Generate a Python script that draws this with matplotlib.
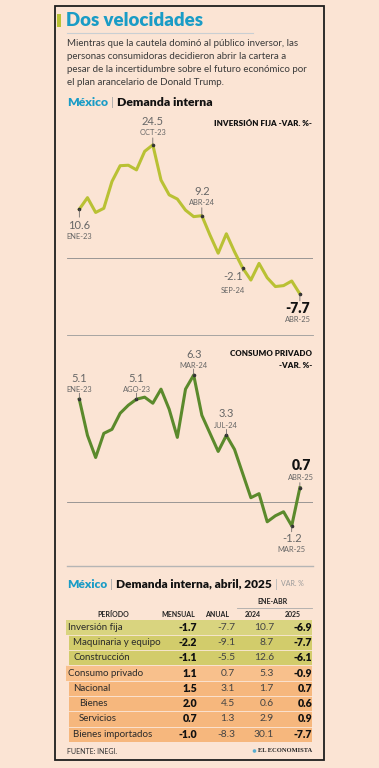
import matplotlib
matplotlib.use("Agg")
import matplotlib.pyplot as plt
from matplotlib.patches import Rectangle, Circle

# -----------------------------
# DATA
# -----------------------------

months = ["ENE-23", "FEB-23", "MAR-23", "ABR-23", "MAY-23", "JUN-23", "JUL-23",
          "AGO-23", "SEP-23", "OCT-23", "NOV-23", "DIC-23", "ENE-24", "FEB-24",
          "MAR-24", "ABR-24", "MAY-24", "JUN-24", "JUL-24", "AGO-24", "SEP-24",
          "OCT-24", "NOV-24", "DIC-24", "ENE-25", "FEB-25", "MAR-25", "ABR-25"]

inversion = [10.6, 13.1, 9.9, 10.8, 16.6, 20.0, 20.1, 19.1, 23.1, 24.5, 16.9, 13.7,
             12.8, 10.4, 9.0, 9.2, 5.0, 1.1, 5.3, 1.4, -2.1, -4.7, -1.1, -4.2,
             -6.1, -5.9, -4.9, -7.7]

consumo = [5.1, 3.3, 2.2, 3.4, 3.6, 4.4, 4.8, 5.1, 5.2, 4.9, 5.6, 4.6, 3.2, 5.6,
           6.3, 4.3, 3.4, 2.5, 3.3, 2.6, 1.4, 0.2, 0.4, -1.0, -0.7, -0.5, -1.2, 0.7]

row_names = ["Inversión fija", "Maquinaria y equipo", "Construcción", "Consumo privado",
             "Nacional", "Bienes", "Servicios", "Bienes importados"]
row_level = [0, 1, 1, 0, 1, 2, 2, 1]
mensual = [-1.7, -2.2, -1.1, 1.1, 1.5, 2.0, 0.7, -1.0]
anual = [-7.7, -9.1, -5.5, 0.7, 3.1, 4.5, 1.3, -8.3]
ene_abr_2024 = [10.7, 8.7, 12.6, 5.3, 1.7, 0.6, 2.9, 30.1]
ene_abr_2025 = [-6.9, -7.7, -6.1, -0.9, 0.7, 0.6, 0.9, -7.7]

# -----------------------------
# STYLE
# -----------------------------

W, H = 379, 768
bg = "#fbe4d4"
teal = "#1a9cc6"
olive = "#b9c134"
green = "#5b8a2c"
gray = "#666666"
plt.rcParams["font.family"] = ["Lato", "DejaVu Sans"]

fig = plt.figure(figsize=(W / 100, H / 100), dpi=100, facecolor=bg)

# overlay in pixel coordinates
ax0 = fig.add_axes([0, 0, 1, 1], zorder=0)
ax0.set_xlim(0, W)
ax0.set_ylim(H, 0)
ax0.axis("off")

ax0.add_patch(Rectangle((55, 6), 269, 754, fill=False, ec="#1e1e1e", lw=1.3))
ax0.add_patch(Rectangle((57, 14), 4, 13, color=olive, lw=0))
ax0.text(66, 21, "Dos velocidades", fontsize=13.4, fontweight="heavy", color=teal, va="center")
ax0.plot([67, 253], [33, 33], color="#c9cfd3", lw=0.8)

subtitle = ["Mientras que la cautela dominó al público inversor, las",
            "personas consumidoras decidieron abrir la cartera a",
            "pesar de la incertidumbre sobre el futuro económico por",
            "el plan arancelario de Donald Trump."]
for k, line in enumerate(subtitle):
    ax0.text(67, 44 + k * 12.9, line, fontsize=7.05, color="#3a3a3a", va="center")

renderer = fig.canvas.get_renderer()


def seq_text(x, y, parts):
    for txt, kw in parts:
        t = ax0.text(x, y, txt, va="center", **kw)
        bb = t.get_window_extent(renderer)
        x += bb.width + 3


seq_text(67, 103, [("México", dict(fontsize=8.8, fontweight="heavy", color=teal)),
                   ("|", dict(fontsize=8.8, color="#aaaaaa")),
                   ("Demanda interna", dict(fontsize=8.8, fontweight="heavy", color="#111111"))])


# -----------------------------
# LINE CHARTS
# -----------------------------

x0_px, step_px = 79.3, 8.17
left_px, right_px = 66.7, 313


def make_chart(top, bottom, zero_y, per_unit, values, color):
    ax = fig.add_axes([left_px / W, 1 - bottom / H, (right_px - left_px) / W, (bottom - top) / H],
                      zorder=1)
    ax.set_facecolor("none")
    ax.set_xlim((left_px - x0_px) / step_px, (right_px - x0_px) / step_px)
    ax.set_ylim((zero_y - bottom) / per_unit, (zero_y - top) / per_unit)
    ax.axis("off")
    ax.axhline(0, color="#8a8a8a", lw=0.6, zorder=1)
    ax.plot(range(len(values)), values, color=color, lw=2.2, solid_joinstyle="round", zorder=2)
    return ax


def mark(ax, values, i, num_dy, mon_dy, tick, dx=0, bold=False):
    v = values[i]
    ax.plot([i], [v], "o", ms=1.6, color="#333333", zorder=3)
    ax.annotate("", xy=(i, v), xytext=(0, -tick * 0.72), textcoords="offset points",
                arrowprops=dict(arrowstyle="-", lw=0.5, color="#555555", shrinkA=0, shrinkB=0))
    if bold:
        ax.annotate(f"{v:.1f}", xy=(i, v), xytext=(dx * 0.72, -num_dy * 0.72),
                    textcoords="offset points", ha="center", va="center",
                    fontsize=10, fontweight="heavy", color="#111111")
    else:
        ax.annotate(f"{v:.1f}", xy=(i, v), xytext=(dx * 0.72, -num_dy * 0.72),
                    textcoords="offset points", ha="center", va="center",
                    fontsize=8, color=gray)
    ax.annotate(months[i], xy=(i, v), xytext=(dx * 0.72, -mon_dy * 0.72),
                textcoords="offset points", ha="center", va="center",
                fontsize=5.4, color=gray)


ax1 = make_chart(115, 330, 258.3, 4.63, inversion, olive)
ax0.text(312, 123, "INVERSIÓN FIJA -VAR. %-", fontsize=5.8, fontweight="heavy",
         ha="right", va="center", color="#111111")
mark(ax1, inversion, 0, 16, 27, 8)
mark(ax1, inversion, 9, -23, -12, -7)
mark(ax1, inversion, 15, -24, -13, -8)
mark(ax1, inversion, 20, 8, 22, 3, dx=-10)
mark(ax1, inversion, 27, 15, 26, 7, dx=-2, bold=True)

ax0.plot([67, 313], [335, 335], color="#9a9a9a", lw=0.6)

ax2 = make_chart(340, 560, 501.7, 20.1, consumo, green)
ax0.text(312, 353, "CONSUMO PRIVADO", fontsize=5.8, fontweight="heavy",
         ha="right", va="center", color="#111111")
ax0.text(312, 366, "-VAR. %-", fontsize=5.8, fontweight="heavy",
         ha="right", va="center", color="#111111")
mark(ax2, consumo, 0, -21, -10, -6)
mark(ax2, consumo, 7, -21, -10, -6)
mark(ax2, consumo, 14, -21, -10, -6)
mark(ax2, consumo, 18, -22, -10, -6)
mark(ax2, consumo, 26, 13, 24, 6)
mark(ax2, consumo, 27, -22, -10, -5, dx=1.5, bold=True)

ax0.plot([67, 313], [566, 566], color="#b5b5b5", lw=1.0)

# -----------------------------
# TABLE
# -----------------------------

seq_text(67, 584, [("México", dict(fontsize=8.6, fontweight="heavy", color=teal)),
                   ("|", dict(fontsize=8.6, color="#aaaaaa")),
                   ("Demanda interna, abril, 2025", dict(fontsize=8.6, fontweight="heavy",
                                                         color="#111111")),
                   ("|", dict(fontsize=8.6, color="#bbbbbb")),
                   ("VAR. %", dict(fontsize=5, color="#999999"))])

ax0.text(273, 602, "ENE-ABR", fontsize=5, fontweight="bold", ha="center", va="center",
         color="#222222")
ax0.plot([237, 312], [608, 608], color="#aaaaaa", lw=0.6)
for label, cx in zip(["PERÍODO", "MENSUAL", "ANUAL", "2024", "2025"], [113, 178, 217, 253, 293]):
    ax0.text(cx, 614.5, label, fontsize=5, fontweight="bold", ha="center", va="center",
             color="#222222")

row_top, row_h = 619.5, 15.3
band_colors = ["#d9d47f", "#d2cc6b", "#d2cc6b", "#f8c08c", "#f6b77d", "#f6b77d",
               "#f6b77d", "#f6b77d"]
indent = {0: 67.5, 1: 73, 2: 79}
for r, name in enumerate(row_names):
    y = row_top + r * row_h
    lx = 66 if row_level[r] == 0 else 68.5
    ax0.add_patch(Rectangle((lx, y), 312 - lx, row_h, color=band_colors[r], lw=0))
    if r > 0:
        ax0.plot([lx, 312], [y, y], color="#fbe9dc", lw=0.6)
    yc = y + row_h / 2
    ax0.text(indent[row_level[r]], yc, name, fontsize=7.0, color="#2a2a2a", va="center")
    ax0.text(197, yc, f"{mensual[r]:.1f}", fontsize=7.6, fontweight="heavy", ha="right",
             va="center", color="#111111")
    ax0.text(235, yc, f"{anual[r]:.1f}", fontsize=7.4, ha="right",
             va="center", color="#444444")
    ax0.text(274, yc, f"{ene_abr_2024[r]:.1f}", fontsize=7.4, ha="right",
             va="center", color="#444444")
    ax0.text(312, yc, f"{ene_abr_2025[r]:.1f}", fontsize=7.6, fontweight="heavy", ha="right",
             va="center", color="#111111")

ax0.text(67, 751, "FUENTE: INEGI.", fontsize=5, color="#333333", va="center")
ax0.text(312, 751, "EL ECONOMISTA", fontsize=4.7, fontweight="bold", family="Liberation Serif",
         ha="right", va="center", color="#222222")
ax0.add_patch(Circle((254.5, 751), 1.8, color="#5aaed0", lw=0))

fig.savefig("out.png", dpi=100, facecolor=bg)
